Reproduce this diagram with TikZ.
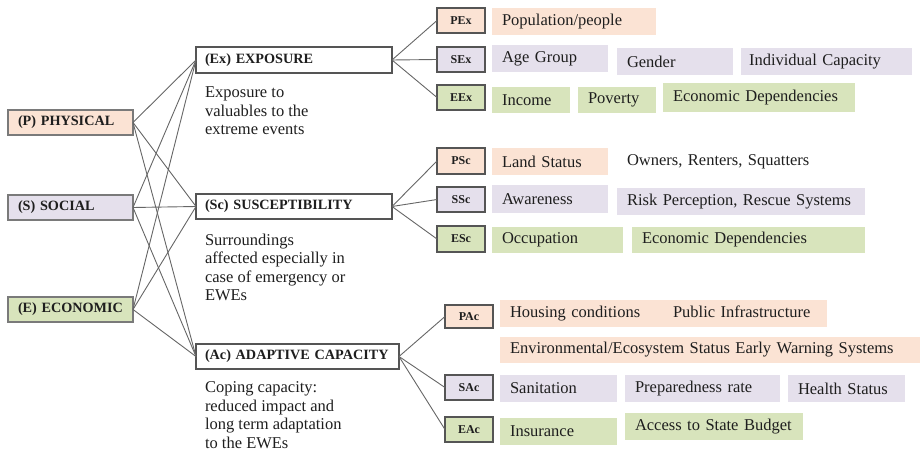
\documentclass[tikz,border=0pt]{standalone}
\usepackage{fontspec}
\setmainfont{Liberation Serif}
\definecolor{peach}{HTML}{FBE3D4}
\definecolor{lav}{HTML}{E5E0EC}
\definecolor{grn}{HTML}{D8E4BC}
\definecolor{edge}{HTML}{555555}
\definecolor{catedge}{HTML}{7A7A7A}
\definecolor{ln}{HTML}{666666}
\definecolor{txt}{HTML}{1E1E1E}
\begin{document}
\begin{tikzpicture}[x=1pt,y=-1pt,
  every node/.style={inner sep=0pt, outer sep=0pt, text=txt},
  catbox/.style={draw=catedge, line width=1.4pt, anchor=north west, minimum height=25pt, inner xsep=10pt, text width=105pt, align=left, font=\bfseries\fontsize{14.2}{17}\selectfont},
  midbox/.style={draw=edge, line width=1.3pt, fill=white, anchor=north west, inner xsep=9pt, align=left, font=\bfseries\fontsize{14.2}{17}\selectfont},
  codebox/.style={draw=edge, line width=1.5pt, anchor=north west, minimum width=48pt, font=\bfseries\fontsize{12}{14}\selectfont},
  itembox/.style={anchor=north west, inner xsep=10pt, align=left, font=\fontsize{16.5}{19}\selectfont},
  desc/.style={anchor=north west, align=left, font=\fontsize{16.5}{18.4}\selectfont},
  conn/.style={draw=ln, line width=0.9pt}]
\useasboundingbox (0,0) rectangle (921,452);

% left category boxes
\node[catbox, fill=peach] (P) at (8,110) {\mbox{(P) PHYSICAL}};
\node[catbox, fill=lav] (S) at (8,195) {\mbox{(S) SOCIAL}};
\node[catbox, fill=grn] (E) at (8,297) {\mbox{(E) ECONOMIC}};

% middle boxes
\node[midbox, text width=178pt, minimum height=26pt] (Ex) at (196,47) {\mbox{(Ex) EXPOSURE}};
\node[midbox, text width=178pt, minimum height=25pt] (Sc) at (196,194) {\mbox{(Sc) SUSCEPTIBILITY}};
\node[midbox, text width=185pt, minimum height=25pt] (Ac) at (196,344) {\mbox{(Ac) ADAPTIVE CAPACITY}};

% descriptions
\node[desc] (dEx) at (205,87) {Exposure to\\valuables to the\\extreme events};
\node[desc] (dSc) at (205,234) {Surroundings\\affected especially in\\case of emergency or\\EWEs};
\node[desc] (dAc) at (205,382) {Coping capacity:\\reduced impact and\\long term adaptation\\to the EWEs};

% connectors left -> middle
\foreach \a in {P,S,E}{
  \foreach \b in {Ex,Sc,Ac}{
    \draw[conn] (\a.east) -- (\b.west);
  }
}

% code boxes
\node[codebox, fill=peach, minimum height=25pt] (PEx) at (437,8) {PEx};
\node[codebox, fill=lav, minimum height=25pt] (SEx) at (437,47) {SEx};
\node[codebox, fill=grn, minimum height=25pt] (EEx) at (437,85) {EEx};
\node[codebox, fill=peach, minimum height=26pt] (PSc) at (437,148) {PSc};
\node[codebox, fill=lav, minimum height=25pt] (SSc) at (437,187) {SSc};
\node[codebox, fill=grn, minimum height=26pt] (ESc) at (437,226) {ESc};
\node[codebox, fill=peach, minimum height=23pt] (PAc) at (445,305) {PAc};
\node[codebox, fill=lav, minimum height=25pt] (SAc) at (445,375) {SAc};
\node[codebox, fill=grn, minimum height=25pt] (EAc) at (445,417) {EAc};

\foreach \b in {PEx,SEx,EEx}{\draw[conn] (Ex.east) -- (\b.west);}
\foreach \b in {PSc,SSc,ESc}{\draw[conn] (Sc.east) -- (\b.west);}
\foreach \b in {PAc,SAc,EAc}{\draw[conn] (Ac.east) -- (\b.west);}

% exposure items
\node[itembox, fill=peach, text width=144pt, minimum height=27pt] (pop) at (492,8) {\mbox{Population/people}};
\node[itembox, fill=lav, text width=96pt, minimum height=27pt] (age) at (492,45) {\mbox{Age Group}};
\node[itembox, fill=lav, text width=96pt, minimum height=27pt] (gen) at (617,48) {\mbox{Gender}};
\node[itembox, fill=lav, text width=155pt, minimum height=27pt, inner xsep=8pt] (ind) at (741,48) {\mbox{Individual Capacity}};
\node[itembox, fill=grn, text width=58pt, minimum height=26pt] (inc) at (492,87) {\mbox{Income}};
\node[itembox, fill=grn, text width=58pt, minimum height=26pt] (pov) at (578,87) {\mbox{Poverty}};
\node[itembox, fill=grn, text width=172pt, minimum height=29pt] (ecd1) at (663,83) {\mbox{Economic Dependencies}};

% susceptibility items
\node[itembox, fill=peach, text width=96pt, minimum height=27pt] (land) at (492,148) {\mbox{Land Status}};
\node[itembox, text width=230pt, minimum height=27pt] (own) at (617,148) {\mbox{Owners, Renters, Squatters}};
\node[itembox, fill=lav, text width=96pt, minimum height=28pt] (awa) at (492,185) {\mbox{Awareness}};
\node[itembox, fill=lav, text width=228pt, minimum height=27pt] (risk) at (617,188) {\mbox{Risk Perception, Rescue Systems}};
\node[itembox, fill=grn, text width=111pt, minimum height=26pt] (occ) at (492,227) {\mbox{Occupation}};
\node[itembox, fill=grn, text width=213pt, minimum height=26pt] (ecd2) at (632,227) {\mbox{Economic Dependencies}};

% adaptive capacity items
\node[itembox, fill=peach, text width=307pt, minimum height=27pt] (hous) at (500,300) {\mbox{\makebox[163pt][l]{Housing conditions}Public Infrastructure}};
\node[itembox, fill=peach, text width=400pt, minimum height=26pt] (env) at (500,337) {\mbox{Environmental/Ecosystem Status Early Warning Systems}};
\node[itembox, fill=lav, text width=97pt, minimum height=27pt] (san) at (500,375) {\mbox{Sanitation}};
\node[itembox, fill=lav, text width=135pt, minimum height=27pt] (prep) at (625,375) {\mbox{Preparedness rate}};
\node[itembox, fill=lav, text width=97pt, minimum height=27pt] (hea) at (788,375) {\mbox{Health Status}};
\node[itembox, fill=grn, text width=97pt, minimum height=27pt] (ins) at (500,418) {\mbox{Insurance}};
\node[itembox, fill=grn, text width=158pt, minimum height=27pt] (acc) at (625,413) {\mbox{Access to State Budget}};
\end{tikzpicture}
\end{document}
